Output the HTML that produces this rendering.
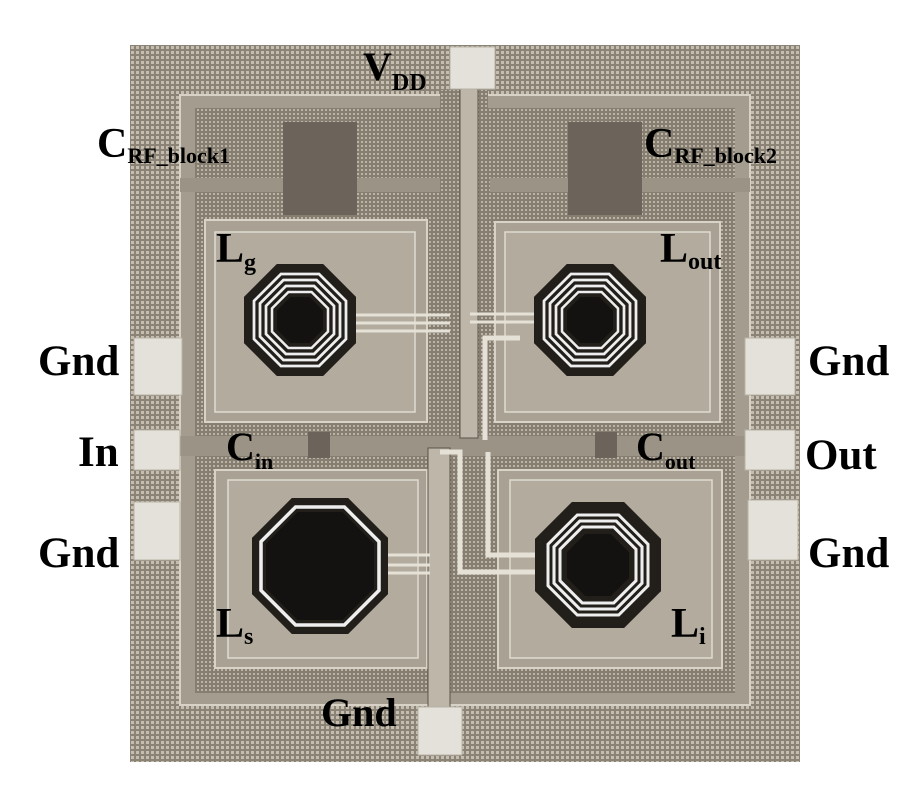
<!DOCTYPE html>
<html><head><meta charset="utf-8"><style>
html,body{margin:0;padding:0;background:#fff;}
svg{display:block}
text{font-family:"Liberation Serif",serif;font-weight:bold;fill:#000}
</style></head><body>
<svg width="900" height="800" viewBox="0 0 900 800">
<defs>
<pattern id="dots" width="5" height="5" patternUnits="userSpaceOnUse">
<rect width="5" height="5" fill="#8a8376"/><rect x="1" y="1" width="3" height="3" fill="#c4bdb0"/>
</pattern>
<pattern id="dots2" width="4" height="4" patternUnits="userSpaceOnUse">
<rect width="4" height="4" fill="#857e71"/><rect x="1" y="1" width="2" height="2" fill="#bab3a6"/>
</pattern>
<polygon id="oct" points="-0.414,-1 0.414,-1 1,-0.414 1,0.414 0.414,1 -0.414,1 -1,0.414 -1,-0.414"/>
</defs>
<rect x="130" y="45" width="670" height="717" fill="url(#dots)"/>
<rect x="180" y="95" width="570" height="610" fill="#a39c8f" stroke="#d8d2c6" stroke-width="2"/>
<rect x="195" y="108" width="540" height="585" fill="url(#dots2)"/>
<rect x="180" y="436" width="570" height="20" fill="#9a9386"/>
<rect x="180" y="178" width="260" height="14" fill="#9a9386"/>
<rect x="490" y="178" width="260" height="14" fill="#9a9386"/>
<rect x="283" y="122" width="74" height="93" fill="#6c645a"/>
<rect x="568" y="122" width="74" height="93" fill="#6c645a"/>
<rect x="308" y="432" width="22" height="26" fill="#6c645a"/>
<rect x="595" y="432" width="22" height="26" fill="#6c645a"/>
<g fill="#a9a294" stroke="#d9d3c7" stroke-width="2">
<rect x="205" y="220" width="222" height="202"/>
<rect x="495" y="222" width="225" height="200"/>
<rect x="215" y="470" width="212" height="198"/>
<rect x="498" y="470" width="224" height="198"/>
</g>
<g fill="#b2ab9e" stroke="#e0dbd0" stroke-width="1.5">
<rect x="215" y="232" width="200" height="180"/>
<rect x="505" y="232" width="205" height="180"/>
<rect x="228" y="480" width="190" height="178"/>
<rect x="510" y="480" width="202" height="178"/>
</g>
<rect x="440" y="90" width="48" height="345" fill="url(#dots2)"/>
<rect x="460" y="88" width="18" height="350" fill="#bdb6a9" stroke="#5a544b" stroke-width="1"/>
<rect x="428" y="448" width="22" height="262" fill="#bdb6a9" stroke="#5a544b" stroke-width="1"/>
<polyline points="485,440 485,338 520,338" fill="none" stroke="#e6e1d6" stroke-width="5"/>
<polyline points="440,452 460,452 460,572 545,572" fill="none" stroke="#e6e1d6" stroke-width="5"/>
<polyline points="488,452 488,555 545,555" fill="none" stroke="#e6e1d6" stroke-width="5"/>
<g stroke="#e6e1d6" stroke-width="3" fill="none">
<line x1="350" y1="315" x2="450" y2="315"/><line x1="350" y1="323" x2="450" y2="323"/><line x1="350" y1="331" x2="450" y2="331"/>
<line x1="470" y1="322" x2="545" y2="322"/><line x1="470" y1="314" x2="545" y2="314"/>
<line x1="380" y1="555" x2="430" y2="555"/><line x1="380" y1="565" x2="430" y2="565"/><line x1="380" y1="573" x2="430" y2="573"/>
</g>
<g>
<use href="#oct" transform="translate(300,320) scale(56)" fill="#221e1a"/>
<use href="#oct" transform="translate(300,320) scale(46)" fill="none" stroke="#eee" stroke-width="0.06"/>
<use href="#oct" transform="translate(300,320) scale(40)" fill="none" stroke="#eee" stroke-width="0.07"/>
<use href="#oct" transform="translate(300,320) scale(34)" fill="none" stroke="#eee" stroke-width="0.08"/>
<use href="#oct" transform="translate(300,320) scale(28)" fill="none" stroke="#eee" stroke-width="0.09"/>
<use href="#oct" transform="translate(300,320) scale(23)" fill="#141210"/>

<use href="#oct" transform="translate(590,320) scale(56)" fill="#221e1a"/>
<use href="#oct" transform="translate(590,320) scale(46)" fill="none" stroke="#eee" stroke-width="0.06"/>
<use href="#oct" transform="translate(590,320) scale(40)" fill="none" stroke="#eee" stroke-width="0.07"/>
<use href="#oct" transform="translate(590,320) scale(34)" fill="none" stroke="#eee" stroke-width="0.08"/>
<use href="#oct" transform="translate(590,320) scale(28)" fill="none" stroke="#eee" stroke-width="0.09"/>
<use href="#oct" transform="translate(590,320) scale(23)" fill="#141210"/>

<use href="#oct" transform="translate(320,566) scale(68)" fill="#221e1a"/>
<use href="#oct" transform="translate(320,566) scale(59)" fill="none" stroke="#eee" stroke-width="0.06"/>
<use href="#oct" transform="translate(320,566) scale(54)" fill="#141210"/>

<use href="#oct" transform="translate(598,565) scale(63)" fill="#221e1a"/>
<use href="#oct" transform="translate(598,565) scale(50)" fill="none" stroke="#eee" stroke-width="0.06"/>
<use href="#oct" transform="translate(598,565) scale(44)" fill="none" stroke="#eee" stroke-width="0.07"/>
<use href="#oct" transform="translate(598,565) scale(38)" fill="none" stroke="#eee" stroke-width="0.08"/>
<use href="#oct" transform="translate(598,565) scale(31)" fill="#141210"/>
</g>
<g fill="#e4e1da" stroke="#b8b2a6" stroke-width="1">
<rect x="450" y="47" width="45" height="42"/>
<rect x="134" y="338" width="48" height="57"/>
<rect x="134" y="430" width="46" height="40"/>
<rect x="134" y="502" width="46" height="58"/>
<rect x="745" y="338" width="50" height="57"/>
<rect x="745" y="430" width="50" height="40"/>
<rect x="748" y="500" width="50" height="60"/>
<rect x="418" y="707" width="44" height="48"/>
</g>
<text x="363" y="80" font-size="40">V<tspan font-size="24" dy="10">DD</tspan></text>
<text x="97" y="157" font-size="42">C<tspan font-size="22" dy="6">RF_block1</tspan></text>
<text x="644" y="157" font-size="42">C<tspan font-size="22" dy="6">RF_block2</tspan></text>
<text x="216" y="262" font-size="42">L<tspan font-size="24" dy="8">g</tspan></text>
<text x="660" y="262" font-size="42">L<tspan font-size="24" dy="7">out</tspan></text>
<text x="38" y="375" font-size="43">Gnd</text>
<text x="78" y="466" font-size="43">In</text>
<text x="38" y="567" font-size="43">Gnd</text>
<text x="808" y="375" font-size="43">Gnd</text>
<text x="805" y="469" font-size="43">Out</text>
<text x="808" y="567" font-size="43">Gnd</text>
<text x="226" y="460" font-size="40">C<tspan font-size="22" dy="9">in</tspan></text>
<text x="636" y="460" font-size="40">C<tspan font-size="22" dy="9">out</tspan></text>
<text x="216" y="637" font-size="42">L<tspan font-size="24" dy="7">s</tspan></text>
<text x="671" y="637" font-size="42">L<tspan font-size="24" dy="7">i</tspan></text>
<text x="321" y="726" font-size="40">Gnd</text>
</svg>
</body></html>
